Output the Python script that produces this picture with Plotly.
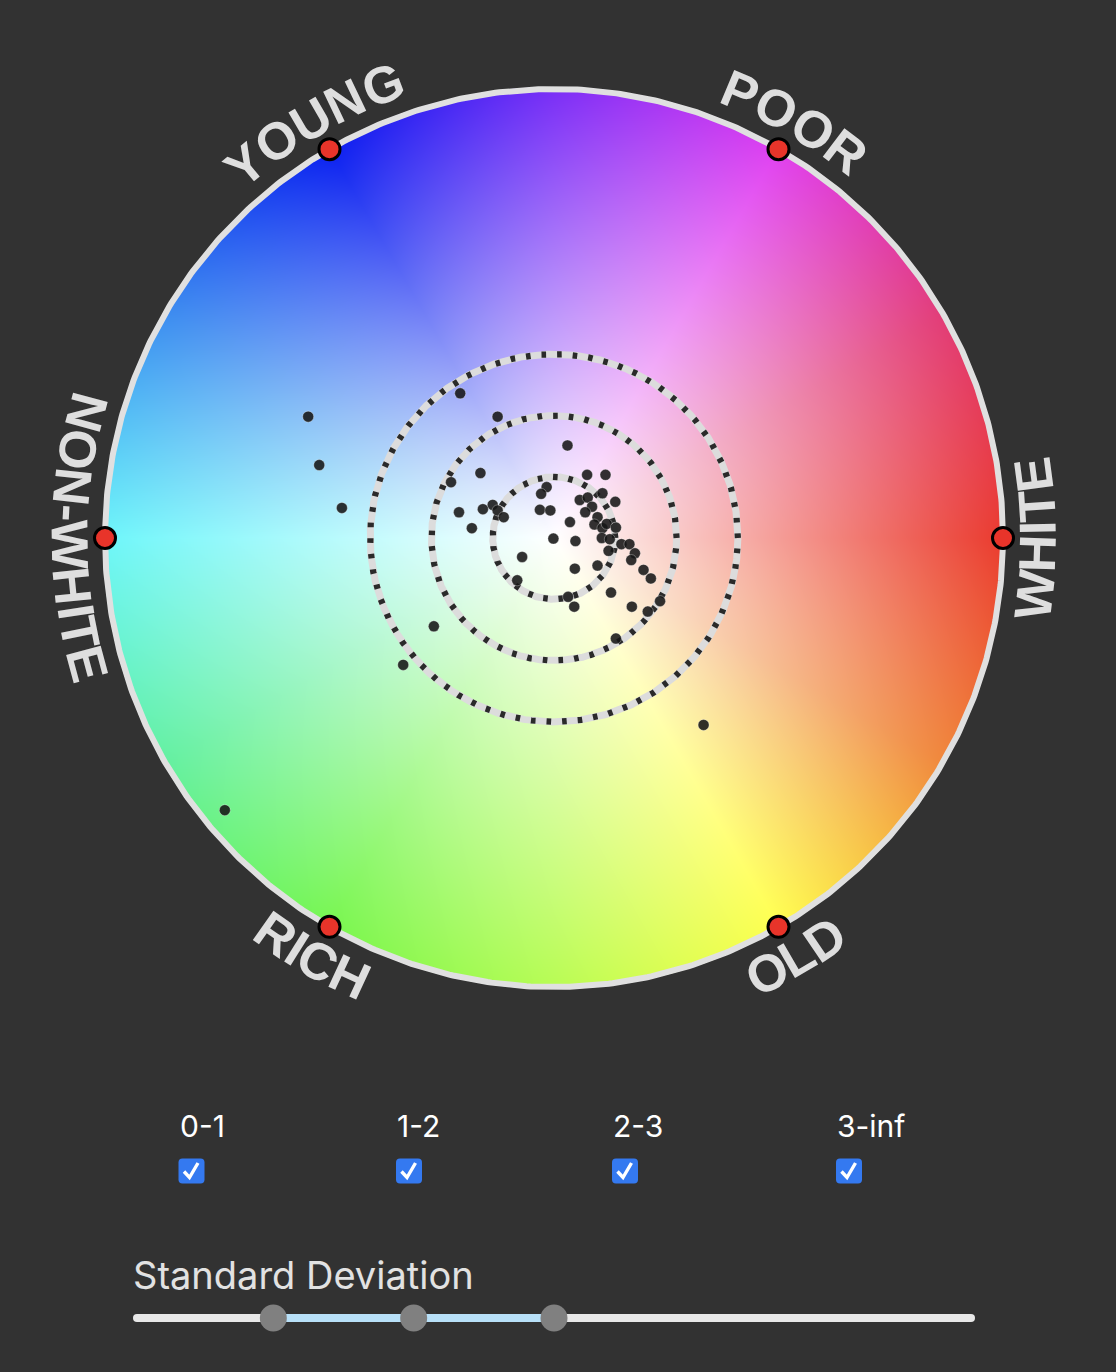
import base64
import struct
import zlib

import numpy as np
import plotly.graph_objects as go

# ---------------- data (in standard-deviation units) ----------------
dot_x = [-1.53, -0.92, 0.22, -1.20, -1.68, 0.54, 0.84, -0.12, -0.21, 0.79,
         0.42, 0.55, 1.00, 0.62, 0.51, -1.00, -0.92, -0.82, -1.16, -1.55,
         -1.34, -0.23, -0.06, 0.26, 0.71, 0.66, 0.79, 0.86, 1.01, 0.78,
         0.91, 1.10, 1.23, 0.89, 1.32, 1.26, -0.01, 0.35, -0.52, 0.34,
         0.71, 1.46, 1.58, -0.60, 0.23, 0.33, 0.93, 1.73, 1.27, 1.53,
         1.01, -1.96, -2.46, 2.44, -4.01, -3.83, -3.46, -5.37]
dot_y = [2.36, 1.98, 1.51, 1.06, 0.91, 1.03, 1.03, 0.83, 0.72, 0.73,
         0.62, 0.66, 0.59, 0.51, 0.42, 0.54, 0.45, 0.34, 0.47, 0.42,
         0.16, 0.46, 0.45, 0.26, 0.34, 0.22, 0.16, 0.23, 0.17, 0.00,
         -0.02, -0.10, -0.10, -0.21, -0.25, -0.36, -0.01, -0.05, -0.31, -0.50,
         -0.45, -0.52, -0.66, -0.69, -0.96, -1.12, -0.89, -1.03, -1.12, -1.20,
         -1.64, -1.44, -2.07, -3.05, 1.98, 1.19, 0.49, -4.44]

anchor_labels = ["WHITE", "POOR", "YOUNG", "NON-WHITE", "RICH", "OLD"]
anchor_angles = [0, 60, 120, 180, 240, 300]

sd_rings = [1, 2, 3]

filter_labels = ["0-1", "1-2", "2-3", "3-inf"]

slider_title = "Standard Deviation"
slider_min, slider_max = 0, 6
slider_handles = [1, 2, 3]

# colour of the wheel rim at every 30 degrees (counter-clockwise from the right)
hue_angles = [0, 30, 60, 90, 120, 150, 180, 210, 240, 270, 300, 330]
hue_colors = [(234, 58, 46), (226, 60, 120), (224, 64, 240), (122, 46, 246),
              (10, 32, 240), (60, 140, 240), (110, 246, 250), (100, 240, 160),
              (120, 246, 80), (184, 252, 84), (255, 255, 80), (240, 136, 60)]

# ---------------- geometry / style ----------------
W, H = 1116, 1372
CX, CY = 554, 538          # wheel centre in pixels
U = 61.3                   # pixels per standard deviation
R_PX = 449                 # wheel radius in pixels
R = R_PX / U
BG = "#323232"


def X(px):
    return (px - CX) / U


def Y(py):
    return (CY - py) / U


# ---------------- colour wheel image ----------------
def png_data_uri(rgba):
    h, w, _ = rgba.shape
    raw = rgba.reshape(h, w * 4).astype(np.uint8)
    filt = raw.copy()
    filt[:, 4:] = raw[:, 4:] - raw[:, :-4]
    data = np.concatenate([np.ones((h, 1), dtype=np.uint8), filt], axis=1).tobytes()

    def chunk(t, d):
        c = struct.pack(">I", len(d)) + t + d
        return c + struct.pack(">I", zlib.crc32(t + d) & 0xFFFFFFFF)

    png = (b"\x89PNG\r\n\x1a\n"
           + chunk(b"IHDR", struct.pack(">IIBBBBB", w, h, 8, 6, 0, 0, 0))
           + chunk(b"IDAT", zlib.compress(data, 9))
           + chunk(b"IEND", b""))
    return "data:image/png;base64," + base64.b64encode(png).decode()


RI = 451
N = 2 * RI
c = np.arange(N) + 0.5 - RI
xx, yy = np.meshgrid(c, -c)
dist = np.sqrt(xx ** 2 + yy ** 2)
theta = np.degrees(np.arctan2(yy, xx)) % 360
t = np.clip(dist / R_PX, 0, 1)
angs = hue_angles + [360]
img = np.zeros((N, N, 4))
for ch in range(3):
    vals = [col[ch] for col in hue_colors] + [hue_colors[0][ch]]
    edge = np.interp(theta, angs, vals)
    img[:, :, ch] = 255 * (1 - t) + edge * t
img[:, :, 3] = np.clip(RI - dist + 0.5, 0, 1) * 255
wheel_uri = png_data_uri(np.round(img))

fig = go.Figure()

# ---------------- rim and SD rings (line traces, drawn under the dots) ----------------
phi = np.linspace(0, 2 * np.pi, 721)
fig.add_trace(go.Scatter(x=R * np.cos(phi), y=R * np.sin(phi), mode="lines",
                         hoverinfo="skip", line=dict(color="#e0e0e0", width=6)))
DASH = 4.6
for k in sd_rings:
    circ = 2 * np.pi * k * U
    period = circ / round(circ / 15.7)
    fig.add_trace(go.Scatter(x=k * np.cos(phi), y=k * np.sin(phi), mode="lines",
                             hoverinfo="skip", line=dict(color="#dcdcdc", width=7)))
    fig.add_trace(go.Scatter(x=k * np.cos(phi), y=k * np.sin(phi), mode="lines",
                             hoverinfo="skip",
                             line=dict(color="#2a2a2a", width=6.2,
                                       dash=f"{DASH:.2f}px,{period - DASH:.2f}px")))

# ---------------- data dots and anchors ----------------
fig.add_trace(go.Scatter(
    x=dot_x, y=dot_y, mode="markers", hoverinfo="skip",
    marker=dict(size=11, color="rgba(22,22,22,0.88)",
                line=dict(width=0.7, color="rgba(255,255,255,0.45)"))))

ax = [R * np.cos(np.radians(a)) for a in anchor_angles]
ay = [R * np.sin(np.radians(a)) for a in anchor_angles]
fig.add_trace(go.Scatter(
    x=ax, y=ay, mode="markers", hoverinfo="skip",
    marker=dict(size=21, color="#e8342a", line=dict(width=3, color="black"))))


# ---------------- widget shapes ----------------
def rrect(x0, y0, x1, y1, r):
    pts = [("M", x0 + r, y0), ("L", x1 - r, y0), ("Q", x1, y0, x1, y0 + r),
           ("L", x1, y1 - r), ("Q", x1, y1, x1 - r, y1), ("L", x0 + r, y1),
           ("Q", x0, y1, x0, y1 - r), ("L", x0, y0 + r), ("Q", x0, y0, x0 + r, y0)]
    s = ""
    for p in pts:
        if p[0] == "Q":
            s += f"Q{X(p[1]):.4f},{Y(p[2]):.4f} {X(p[3]):.4f},{Y(p[4]):.4f} "
        else:
            s += f"{p[0]}{X(p[1]):.4f},{Y(p[2]):.4f} "
    return s + "Z"


shapes = []
box_cx = [191.5, 409, 625, 849]
box_cy = 1171
label_y = 1126
for cx in box_cx:
    shapes.append(dict(type="path", xref="x", yref="y",
                       path=rrect(cx - 13, box_cy - 12.5, cx + 13, box_cy + 12.5, 4),
                       fillcolor="#3479f0", line=dict(width=0)))
    chk = (f"M{X(cx - 7.5):.4f},{Y(box_cy + 0.5):.4f} L{X(cx - 2):.4f},{Y(box_cy + 6.5):.4f} "
           f"L{X(cx + 6.5):.4f},{Y(box_cy - 8):.4f}")
    shapes.append(dict(type="path", xref="x", yref="y", path=chk,
                       fillcolor="rgba(0,0,0,0)", line=dict(color="white", width=3.4)))

tr_x0, tr_x1, tr_y = 133, 975, 1318


def sval(v):
    return tr_x0 + (v - slider_min) / (slider_max - slider_min) * (tr_x1 - tr_x0)


shapes.append(dict(type="path", xref="x", yref="y",
                   path=rrect(tr_x0, tr_y - 4, tr_x1, tr_y + 4, 4),
                   fillcolor="#e8e8e8", line=dict(width=0)))
shapes.append(dict(type="rect", xref="x", yref="y",
                   x0=X(sval(min(slider_handles))), x1=X(sval(max(slider_handles))),
                   y0=Y(tr_y + 4), y1=Y(tr_y - 4),
                   fillcolor="#b8e0f8", line=dict(width=0)))
for v in slider_handles:
    hx = sval(v)
    shapes.append(dict(type="circle", xref="x", yref="y",
                       x0=X(hx - 13.5), x1=X(hx + 13.5), y0=Y(tr_y + 13.5), y1=Y(tr_y - 13.5),
                       fillcolor="#808080", line=dict(width=0)))

# ---------------- annotations ----------------
AB = {'Y': .667, 'O': .778, 'U': .722, 'N': .722, 'G': .778, 'P': .667, 'R': .722,
      'W': .944, 'H': .722, 'I': .278, 'T': .611, 'E': .667, '-': .333, 'C': .722,
      'L': .611, 'D': .722}
FS = 52
RC = 484
annotations = []
for label, ang in zip(anchor_labels, anchor_angles):
    top = np.sin(np.radians(ang)) > 0.1
    widths = [AB[ch] * FS for ch in label]
    L = sum(widths)
    rb = RC - 0.36 * FS if top else RC + 0.36 * FS
    s = 0
    for ch, w in zip(label, widths):
        mid = s + w / 2 - L / 2
        s += w
        if top:
            th = ang - np.degrees(mid / rb)
            rot = 90 - th
        else:
            th = ang + np.degrees(mid / rb)
            rot = -90 - th
        rot = ((rot + 180) % 360) - 180
        annotations.append(dict(
            x=RC * np.cos(np.radians(th)) / U, y=RC * np.sin(np.radians(th)) / U,
            xref="x", yref="y", text=ch, textangle=rot, showarrow=False,
            xanchor="center", yanchor="middle",
            font=dict(family="Liberation Sans", size=FS, color="#dedede", weight="bold")))

for lab, cx in zip(filter_labels, box_cx):
    annotations.append(dict(x=X(cx - 14), y=Y(label_y), xref="x", yref="y", text=lab,
                            showarrow=False, xanchor="left", yanchor="middle",
                            font=dict(family="Inter", size=30, color="white")))

annotations.append(dict(x=X(tr_x0 - 2), y=Y(1275), xref="x", yref="y", text=slider_title,
                        showarrow=False, xanchor="left", yanchor="middle",
                        font=dict(family="Inter", size=38, color="#e2e2e2")))

fig.update_layout(
    width=W, height=H, autosize=False,
    margin=dict(l=0, r=0, t=0, b=0, pad=0),
    paper_bgcolor=BG, plot_bgcolor=BG,
    showlegend=False, hovermode=False,
    xaxis=dict(range=[X(0), X(W)], visible=False, fixedrange=True),
    yaxis=dict(range=[Y(H), Y(0)], visible=False, fixedrange=True),
    shapes=shapes, annotations=annotations,
    images=[dict(source=wheel_uri, xref="x", yref="y", x=-RI / U, y=RI / U,
                 sizex=2 * RI / U, sizey=2 * RI / U, sizing="stretch",
                 xanchor="left", yanchor="top", layer="below")],
)

fig.write_html("out.html")
